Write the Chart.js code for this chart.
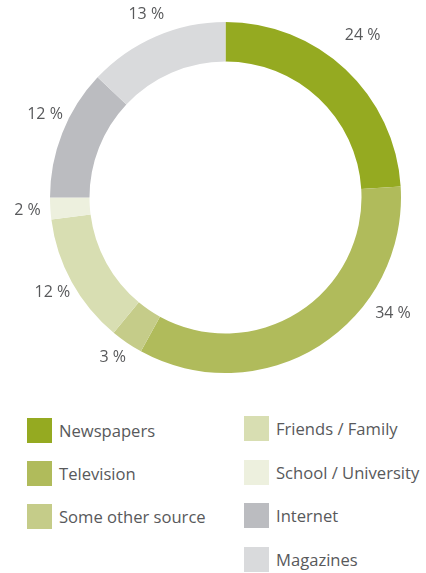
<!DOCTYPE html>
<html>
<head>
<meta charset="utf-8">
<script src="https://cdn.jsdelivr.net/npm/chart.js@4/dist/chart.umd.min.js"></script>
<style>
  body { margin:0; background:#fff; width:426px; height:573px; overflow:hidden; position:relative; font-family:"Open Sans", sans-serif; }
  #wrap { position:absolute; left:0; top:0; width:426px; height:400px; }
  .item { position:absolute; display:flex; align-items:center; height:25px; font-size:16.6px; color:#58595b; }
  .item span.box { width:25px; height:25px; margin-right:7px; flex:none; }
</style>
</head>
<body>
<div id="wrap"><canvas id="donut"></canvas></div>
<div id="legend"></div>
<script>
let categories = ['Newspapers','Television','Some other source','Friends / Family','School / University','Internet','Magazines'];
let shares = [24,34,3,12,2,12,13];
let colors = ['#95aa21','#b0bb5b','#c5cc89','#d8deb2','#edf0de','#bbbcc0','#d9dadc'];

//label nudges (angle in degrees, distance past the ring)
let labelNudge = [[-3,37],[-23,28],[1,20],[0,22],[0,23],[3,23],[0,24]];

let outsideLabels = {
    id:'outsideLabels',
    afterDatasetsDraw(chart){
        let ctx = chart.ctx;
        ctx.save();
        ctx.font = '16px "Open Sans"';
        ctx.fillStyle = '#58595b';
        ctx.textAlign = 'center';
        ctx.textBaseline = 'middle';
        chart.getDatasetMeta(0).data.forEach(function(arc,i){
            let mid = (arc.startAngle + arc.endAngle)/2 + labelNudge[i][0]*Math.PI/180;
            let r = arc.outerRadius + labelNudge[i][1];
            ctx.fillText(shares[i] + ' %', arc.x + Math.cos(mid)*r, arc.y + Math.sin(mid)*r);
        });
        ctx.restore();
    }
};

let donut = document.querySelector('#donut').getContext('2d');
let chart = new Chart(donut,{
    type:'doughnut',
    data:{
        labels:categories,
        datasets:[{
            data:shares,
            backgroundColor:colors,
            borderWidth:0
        }]
    },
    options:{
        responsive:true,
        maintainAspectRatio:false,
        animation:false,
        cutout:'77.5%',
        layout:{padding:{top:22,bottom:27,left:50,right:25}},
        plugins:{legend:{display:false},tooltip:{enabled:false}}
    },
    plugins:[outsideLabels]
});

// legend in two columns
let legend = document.querySelector('#legend');
let spots = [[27,418],[27,461],[27,504],[244,416],[244,460],[244,503],[244,547]];
categories.forEach(function(name,i){
    let div = document.createElement('div');
    div.className = 'item';
    div.style.left = spots[i][0] + 'px';
    div.style.top = spots[i][1] + 'px';
    div.innerHTML = '<span class="box" style="background:' + colors[i] + '"></span>' + name;
    legend.appendChild(div);
});
</script>
</body>
</html>
